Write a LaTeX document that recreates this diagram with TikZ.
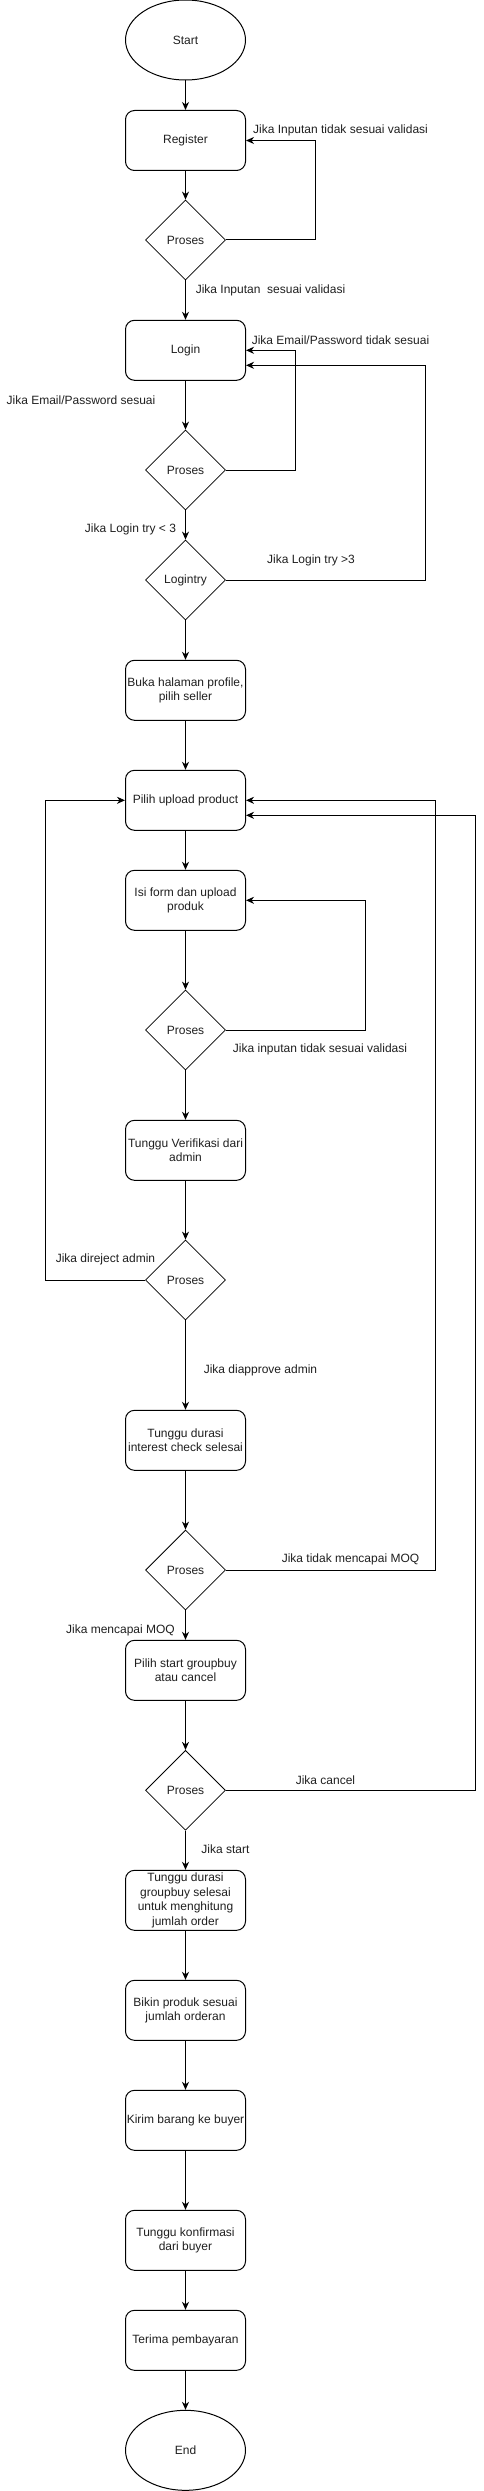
\documentclass[tikz,border=0pt]{standalone}
\usepackage{fontspec}
\setmainfont{Liberation Sans}
\usetikzlibrary{shapes.geometric,arrows.meta,calc}
\begin{document}
\begin{tikzpicture}[x=1pt,y=-1pt,
  every node/.style={font=\fontsize{12}{14.5}\selectfont, text=black!88},
  boxnode/.style={draw=black, line width=1pt, rounded corners=9pt, minimum width=120pt, minimum height=60pt, align=center, inner sep=0pt},
  ovalnode/.style={draw=black, line width=1pt, ellipse, minimum width=120pt, minimum height=80pt, inner sep=0pt},
  decnode/.style={draw=black, line width=0.8pt, diamond, minimum width=80pt, minimum height=80pt, inner sep=0pt},
  lbl/.style={inner sep=0pt, anchor=center},
  arr/.style={draw=black, line width=1pt, -{Stealth[length=8pt,width=7pt,inset=2.5pt]}}
]
\useasboundingbox (0,0) rectangle (484,2491);

% main column
\node[ovalnode] (start) at (185.5,40) {Start};
\node[boxnode] (register) at (185.5,140.5) {Register};
\node[decnode] (d1) at (185.5,240) {Proses};
\node[boxnode] (login) at (185.5,350.3) {Login};
\node[decnode] (d2) at (185.5,470) {Proses};
\node[decnode] (dlog) at (185.5,580) {Logintry};
\node[boxnode] (buka) at (185.5,690.3) {Buka halaman profile,\\pilih seller};
\node[boxnode] (upload) at (185.5,800.3) {Pilih upload product};
\node[boxnode] (isi) at (185.5,900.3) {Isi form dan upload\\produk};
\node[decnode] (d3) at (185.5,1030) {Proses};
\node[boxnode] (verif) at (185.5,1150.3) {Tunggu Verifikasi dari\\admin};
\node[decnode] (d4) at (185.5,1280) {Proses};
\node[boxnode] (interest) at (185.5,1440.3) {Tunggu durasi\\interest check selesai};
\node[decnode] (d5) at (185.5,1570) {Proses};
\node[boxnode] (startgb) at (185.5,1670.3) {Pilih start groupbuy\\atau cancel};
\node[decnode] (d6) at (185.5,1790.3) {Proses};
\node[boxnode] (gbwait) at (185.5,1900.3) {Tunggu durasi\\groupbuy selesai\\untuk menghitung\\jumlah order};
\node[boxnode] (bikin) at (185.5,2010.3) {Bikin produk sesuai\\jumlah orderan};
\node[boxnode] (kirim) at (185.5,2120.3) {Kirim barang ke buyer};
\node[boxnode] (konf) at (185.5,2240.3) {Tunggu konfirmasi\\dari buyer};
\node[boxnode] (terima) at (185.5,2340.3) {Terima pembayaran};
\node[ovalnode] (end) at (185.5,2450.3) {End};

% straight connectors
\draw[arr] (start) -- (register);
\draw[arr] (register) -- (d1);
\draw[arr] (d1) -- (login);
\draw[arr] (login) -- (d2);
\draw[arr] (d2) -- (dlog);
\draw[arr] (dlog) -- (buka);
\draw[arr] (buka) -- (upload);
\draw[arr] (upload) -- (isi);
\draw[arr] (isi) -- (d3);
\draw[arr] (d3) -- (verif);
\draw[arr] (verif) -- (d4);
\draw[arr] (d4) -- (interest);
\draw[arr] (interest) -- (d5);
\draw[arr] (d5) -- (startgb);
\draw[arr] (startgb) -- (d6);
\draw[arr] (d6) -- (gbwait);
\draw[arr] (gbwait) -- (bikin);
\draw[arr] (bikin) -- (kirim);
\draw[arr] (kirim) -- (konf);
\draw[arr] (konf) -- (terima);
\draw[arr] (terima) -- (end);

% loop-back connectors
\coordinate (c1) at (315.3,240);
\draw[arr] (d1.east) -- (c1) |- (register.east);
\coordinate (c2) at (295.3,470);
\draw[arr] (d2.east) -- (c2) |- (login.east);
\coordinate (c3) at (425.3,580);
\coordinate (loginlow) at ($(login.east)+(0,15)$);
\draw[arr] (dlog.east) -- (c3) |- (loginlow);
\coordinate (c4) at (365.3,1030);
\draw[arr] (d3.east) -- (c4) |- (isi.east);
\coordinate (c5) at (45.3,1280);
\draw[arr] (d4.west) -- (c5) |- (upload.west);
\coordinate (c6) at (435.3,1570);
\draw[arr] (d5.east) -- (c6) |- (upload.east);
\coordinate (c7) at (475.3,1790.3);
\coordinate (uploadlow) at ($(upload.east)+(0,15)$);
\draw[arr] (d6.east) -- (c7) |- (uploadlow);

% labels
\node[lbl] (l1) at (340.5,130) {Jika Inputan tidak sesuai validasi};
\node[lbl] (l2) at (270.5,290) {Jika Inputan~ sesuai validasi};
\node[lbl] (l3) at (340.5,340) {Jika Email/Password tidak sesuai};
\node[lbl] (l4) at (81,400) {Jika Email/Password sesuai};
\node[lbl] (l5) at (130.5,529.3) {Jika Login try < 3};
\node[lbl] (l6) at (311,560) {Jika Login try >3};
\node[lbl] (l7) at (320,1049.3) {Jika inputan tidak sesuai validasi};
\node[lbl] (l8) at (105.5,1259.3) {Jika direject admin};
\node[lbl] (l9) at (260.5,1370) {Jika diapprove admin};
\node[lbl] (l10) at (350.5,1559.3) {Jika tidak mencapai MOQ};
\node[lbl] (l11) at (120.5,1630) {Jika mencapai MOQ};
\node[lbl] (l12) at (325.5,1780) {Jika cancel};
\node[lbl] (l13) at (225.5,1849.3) {Jika start};
\end{tikzpicture}
\end{document}
